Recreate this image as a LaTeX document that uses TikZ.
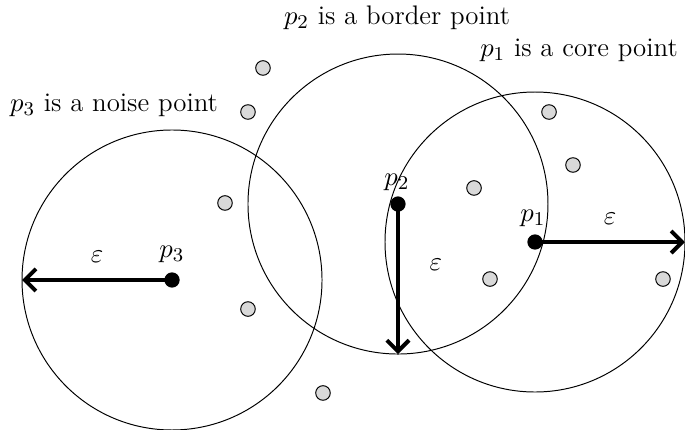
\documentclass[tikz,border=0pt]{standalone}
\usepackage{tikz}
\usetikzlibrary{arrows.meta,calc}
\definecolor{Ink}{HTML}{000000}
\definecolor{Pebble}{HTML}{D9D9D9}

\tikzset{
  core/.style={circle,fill=Ink,inner sep=0pt,minimum size=0.22cm},
  other/.style={circle,draw=Ink,fill=Pebble,inner sep=0pt,minimum size=0.21cm,thin},
  reach/.style={line width=1.6pt,-{Straight Barb[length=1.6mm,width=3.2mm]}}
}

\begin{document}
\begin{tikzpicture}[font=\fontsize{11}{13.6}\selectfont]
    \useasboundingbox (0,0) rectangle (9.864,6.192);
    % neighbourhoods
    \node[core] (p3) at (2.477,2.16) {};
    \node[core] (p2) at (5.731,3.254) {};
    \node[core] (p1) at (7.704,2.707) {};
    \draw[thin] (p3.center) circle (2.16);
    \draw[thin] (p2.center) circle (2.16);
    \draw[thin] (p1.center) circle (2.16);
    % other points
    \node[other] (q1) at (3.787,5.213) {};
    \node[other] (q2) at (3.571,4.579) {};
    \node[other] (q3) at (3.240,3.269) {};
    \node[other] (q4) at (3.571,1.742) {};
    \node[other] (q5) at (4.651,0.533) {};
    \node[other] (q6) at (7.906,4.579) {};
    \node[other] (q7) at (8.251,3.816) {};
    \node[other] (q8) at (6.826,3.485) {};
    \node[other] (q9) at (7.056,2.174) {};
    \node[other] (q10) at (9.547,2.174) {};
    % radii
    \coordinate (r3) at ($(p3.center)+(-2.16,0)$);
    \coordinate (r2) at ($(p2.center)+(0,-2.16)$);
    \coordinate (r1) at ($(p1.center)+(2.16,0)$);
    \draw[reach] (p3.center) -- (r3);
    \draw[reach] (p2.center) -- (r2);
    \draw[reach] (p1.center) -- (r1);
    \node (e3) at (1.397,2.491) {$\varepsilon$};
    \node (e2) at (6.278,2.376) {$\varepsilon$};
    \node (e1) at (8.784,3.038) {$\varepsilon$};
    \node (l3) at (2.477,2.534) {$p_3$};
    \node (l2) at (5.717,3.571) {$p_2$};
    \node (l1) at (7.675,3.053) {$p_1$};
    % captions
    \node (t2) at (5.717,5.933) {$p_2$ is a border point};
    \node (t1) at (8.338,5.472) {$p_1$ is a core point};
    \node (t3) at (1.642,4.68) {$p_3$ is a noise point};
  \end{tikzpicture}
\end{document}
